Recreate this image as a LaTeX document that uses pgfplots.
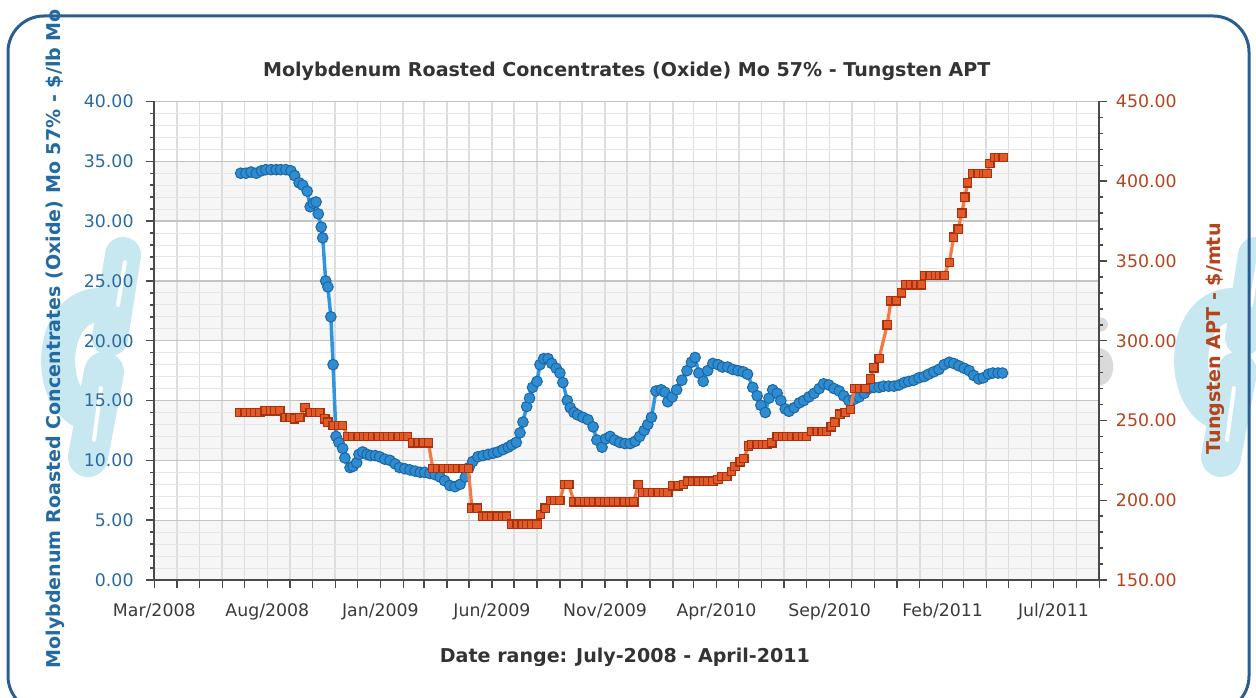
\documentclass[border=0pt]{standalone}
\usepackage{fontspec}
\setmainfont{DejaVu Sans}
\usepackage{pgfplots}
\pgfplotsset{compat=1.18}
\definecolor{frameblue}{HTML}{2B5E8E}
\definecolor{wmblue}{HTML}{C8E8F1}
\definecolor{axisgray}{HTML}{4A4A4A}
\definecolor{gridmaj}{HTML}{C4C4C4}
\definecolor{gridmin}{HTML}{E6E6E6}
\definecolor{gridx}{HTML}{DDDDDD}
\definecolor{bandgray}{HTML}{F6F6F6}
\definecolor{moline}{HTML}{2E96E0}
\definecolor{mofill}{HTML}{2E8DD2}
\definecolor{moedge}{HTML}{1C66A2}
\definecolor{molabel}{HTML}{236AA3}
\definecolor{motick}{HTML}{2A6A9E}
\definecolor{wline}{HTML}{F47A45}
\definecolor{wfill}{HTML}{E25A28}
\definecolor{wedge}{HTML}{A8320E}
\definecolor{wlabel}{HTML}{B5441C}
\definecolor{titlegray}{HTML}{333333}
\definecolor{ticktxt}{HTML}{3A3A3A}
\definecolor{wmgray}{HTML}{DADADA}

\pgfplotstableread{
day mo
117 34.0
124 34.0
131 34.1
138 34.0
145 34.2
151 34.3
158 34.3
165 34.3
171 34.3
178 34.3
185 34.2
190 33.8
196 33.2
201 33.0
207 32.5
211 31.2
215 31.5
219 31.6
222 30.6
226 29.5
228 28.6
232 25.0
235 24.5
239 22.0
242 18.0
246 12.0
250 11.5
255 11.0
258 10.2
265 9.4
269 9.5
274 9.8
277 10.5
282 10.7
288 10.5
293 10.4
299 10.4
305 10.3
312 10.1
319 10.0
326 9.7
332 9.4
339 9.3
346 9.2
353 9.1
360 9.0
366 9.0
373 8.9
380 8.8
387 8.6
393 8.3
400 7.9
407 7.8
414 8.0
421 8.6
426 9.4
431 9.9
438 10.3
445 10.4
452 10.5
459 10.6
465 10.7
472 10.9
479 11.1
484 11.3
490 11.5
495 12.3
499 13.2
504 14.5
508 15.2
512 16.1
518 16.6
522 18.0
527 18.5
533 18.5
538 18.1
544 17.7
549 17.3
553 16.5
559 15.0
563 14.4
568 14.0
573 13.8
580 13.6
587 13.4
594 12.8
599 11.7
606 11.1
611 11.8
617 12.0
623 11.7
630 11.5
637 11.4
644 11.4
651 11.6
657 12.0
663 12.5
668 13.0
673 13.6
679 15.8
686 15.9
691 15.7
695 14.9
701 15.3
707 15.9
714 16.7
721 17.5
727 18.2
732 18.6
737 17.3
743 16.6
749 17.5
756 18.1
763 18.0
769 17.8
776 17.8
783 17.6
790 17.5
797 17.4
803 17.2
810 16.1
816 15.4
821 14.6
827 14.0
832 15.2
837 15.9
843 15.6
848 15.0
854 14.3
859 14.1
866 14.4
873 14.8
879 15.0
886 15.3
893 15.6
900 16.0
906 16.4
913 16.3
920 16.0
927 15.8
933 15.4
940 15.0
947 15.1
954 15.3
961 15.6
967 16.0
974 16.1
981 16.1
987 16.2
994 16.2
1001 16.2
1008 16.3
1015 16.5
1021 16.6
1028 16.7
1035 16.9
1042 17.0
1048 17.2
1055 17.4
1062 17.6
1069 18.0
1076 18.2
1082 18.1
1089 17.9
1096 17.7
1103 17.5
1109 17.1
1116 16.8
1122 16.9
1129 17.2
1135 17.3
1142 17.3
1148 17.3
}\motable

\pgfplotstableread{
day w
116 255
123 255
130 255
136 255
143 255
150 256
157 256
163 256
170 256
177 252
184 252
190 251
197 252
204 258
211 255
218 255
224 255
231 251
235 249
242 247
249 247
255 247
262 240
269 240
276 240
283 240
289 240
296 240
303 240
310 240
316 240
323 240
330 240
337 240
343 240
350 236
357 236
364 236
371 236
377 220
384 220
391 220
398 220
404 220
411 220
418 220
425 220
430 195
437 195
444 190
450 190
457 190
464 190
471 190
477 190
484 185
491 185
498 185
504 185
511 185
518 185
523 191
529 195
536 200
542 200
549 200
555 210
561 210
568 199
575 199
582 199
588 199
595 199
602 199
609 199
615 199
622 199
629 199
636 199
643 199
649 199
655 210
661 205
668 205
675 205
682 205
689 205
695 205
702 209
709 209
716 210
722 212
729 212
736 212
743 212
749 212
756 212
763 213
768 215
775 215
781 218
786 221
793 224
798 226
804 234
809 235
816 235
823 235
829 235
836 236
843 240
850 240
856 240
863 240
870 240
877 240
883 240
890 243
897 243
904 243
910 243
916 246
921 249
928 254
935 255
942 257
948 270
955 270
962 270
969 276
974 283
981 289
992 310
997 325
1004 325
1011 330
1017 335
1024 335
1031 335
1038 335
1043 341
1050 341
1057 341
1063 341
1069 341
1076 349
1082 365
1088 370
1093 380
1097 390
1101 399
1108 405
1115 405
1122 405
1127 405
1131 411
1137 415
1143 415
1149 415
}\wtable

\newcommand{\logo}{%
  \draw[wmblue, line width=25.5pt, line cap=round] (100,305) .. controls (45,305) and (45,412) .. (95,415);
  \draw[wmblue, line width=27pt, line cap=round] (123,255) -- (110,338);
  \draw[wmblue, line width=30pt, line cap=round] (104,372) -- (88,457);
  \draw[white, line width=3pt, line cap=round] (125,262) -- (118,305);
  \draw[white, line width=3pt, line cap=round] (101,388) -- (94,440);
}

\begin{document}
\begin{tikzpicture}
\useasboundingbox (0,0) rectangle (942pt,523.5pt);
\begin{scope}[x=0.75pt,y=-0.75pt,shift={(0pt,523.5pt)}]
  \logo
  \begin{scope}[xshift=849.75pt]
    \logo
  \end{scope}
  \draw[frameblue, line width=2.25pt, rounded corners=27pt] (8,16) rectangle (1249,712);
  \fill[white] (154.3,101.5) rectangle (1099.3,580);
  \fill[bandgray] (154.3,161.3) rectangle (1099.3,221.1);
  \fill[bandgray] (154.3,280.9) rectangle (1099.3,340.8);
  \fill[bandgray] (154.3,400.6) rectangle (1099.3,460.4);
  \fill[bandgray] (154.3,520.2) rectangle (1099.3,580);
  \fill[wmgray] (1099,317) .. controls (1111,318) and (1111,331) .. (1099,332) -- cycle;
  \fill[wmgray] (1099,348) .. controls (1118,350) and (1118,383) .. (1099,386) -- cycle;
\end{scope}

\begin{axis}[
  at={(115.7pt,88.5pt)}, anchor=south west,
  scale only axis, width=708.75pt, height=358.9pt,
  xmin=0, xmax=1279, ymin=0, ymax=40,
  axis x line*=bottom, axis y line*=left,
  axis line style={-, draw=axisgray, line width=1.5pt},
  tick align=outside,
  major tick length=6pt, minor tick length=3pt,
  every tick/.style={draw=axisgray, line width=1.1pt},
  xtick={0,31,61,92,122,153,184,214,245,275,306,337,365,396,426,457,487,518,549,579,610,640,671,702,730,761,791,822,852,883,914,944,975,1005,1036,1067,1095,1126,1156,1187,1217,1248,1279},
  xticklabels={Mar/2008,,,,,Aug/2008,,,,,Jan/2009,,,,,Jun/2009,,,,,Nov/2009,,,,,Apr/2010,,,,,Sep/2010,,,,,Feb/2011,,,,,Jul/2011,,},
  ytick={0,5,...,40}, minor y tick num=4,
  xmajorgrids, ymajorgrids, yminorgrids,
  major x grid style={draw=gridx, line width=1.2pt},
  major y grid style={draw=gridmaj, line width=0.9pt},
  minor y grid style={draw=gridmin, line width=0.75pt},
  tick label style={font=\fontsize{13}{15}\selectfont},
  x tick label style={text=ticktxt, yshift=-8pt},
  y tick label style={text=motick, xshift=-6pt, /pgf/number format/.cd, fixed, fixed zerofill, precision=2, assume math mode=true},
  title={Molybdenum Roasted Concentrates (Oxide) Mo 57\% - Tungsten APT},
  title style={font=\bfseries\fontsize{14.3}{17}\selectfont, text=titlegray, at={(axis description cs:0.5,1.046)}, anchor=center},
  xlabel={Date range: July-2008 - April-2011},
  xlabel style={font=\bfseries\fontsize{14.3}{17}\selectfont, text=titlegray, at={(axis description cs:0.498,-0.161)}, anchor=center},
  ylabel={Molybdenum Roasted Concentrates (Oxide) Mo 57\% - \$/lb Mo},
  ylabel style={font=\bfseries\fontsize{14.3}{17}\selectfont, text=molabel, at={(axis description cs:-0.105,0.504)}, anchor=center},
]
\addplot[moline, line width=2.6pt, mark=*, mark size=4pt,
  mark options={fill=mofill, draw=moedge, line width=0.75pt}] table[x=day, y=mo] {\motable};
\end{axis}

\begin{axis}[
  at={(115.7pt,88.5pt)}, anchor=south west,
  scale only axis, width=708.75pt, height=358.9pt,
  xmin=0, xmax=1279, ymin=150, ymax=450,
  axis y line*=right, axis x line=none,
  axis line style={-, draw=axisgray, line width=1.5pt},
  tick align=outside,
  major tick length=6pt, minor tick length=3pt,
  every tick/.style={draw=axisgray, line width=1.1pt},
  ytick={150,200,...,450}, minor y tick num=4,
  tick label style={font=\fontsize{13}{15}\selectfont},
  y tick label style={text=wlabel, xshift=3pt, /pgf/number format/.cd, fixed, fixed zerofill, precision=2, assume math mode=true},
  ylabel={Tungsten APT - \$/mtu},
  ylabel style={font=\bfseries\fontsize{14.3}{17}\selectfont, text=wlabel, at={(axis description cs:1.1224,0.504)}, anchor=center},
]
\addplot[wline, line width=2.4pt, mark=square*, mark size=3.1pt,
  mark options={fill=wfill, draw=wedge, line width=0.9pt}] table[x=day, y=w] {\wtable};
\end{axis}
\end{tikzpicture}
\end{document}
